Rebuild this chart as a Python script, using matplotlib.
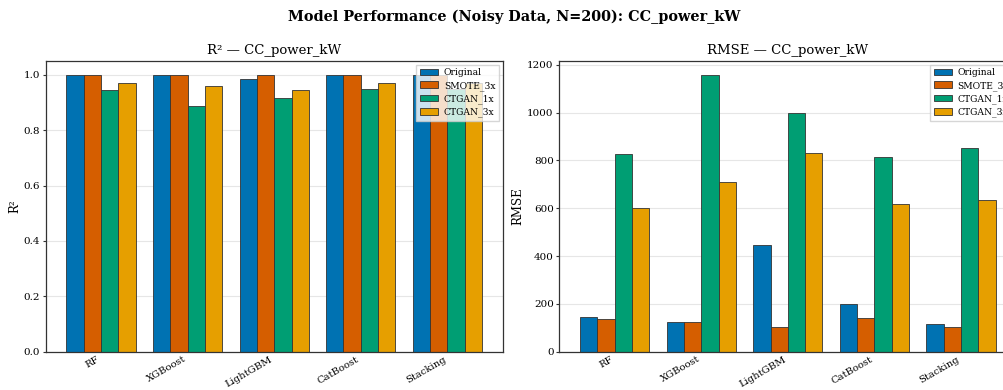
import numpy as np
import matplotlib
matplotlib.use("Agg")
import matplotlib.pyplot as plt

# data
models = ["RF", "XGBoost", "LightGBM", "CatBoost", "Stacking"]
datasets = ["Original", "SMOTE_3x", "CTGAN_1x", "CTGAN_3x"]
colors = ["#0072B2", "#D55E00", "#009E73", "#E69F00"]

r2_original = [1.000, 1.000, 0.986, 0.998, 1.000]
r2_smote3 = [1.000, 1.000, 1.000, 1.000, 1.000]
r2_ctgan1 = [0.945, 0.887, 0.916, 0.947, 0.950]
r2_ctgan3 = [0.970, 0.959, 0.944, 0.969, 0.970]

rmse_original = [146, 124, 447, 199, 117]
rmse_smote3 = [137, 123, 103, 140, 105]
rmse_ctgan1 = [828, 1158, 997, 812, 851]
rmse_ctgan3 = [600, 710, 829, 619, 634]

plt.rcParams["font.family"] = "DejaVu Serif"

fig = plt.figure(figsize=(10.04, 3.9), dpi=100)
ax1 = fig.add_axes([0.0455, 0.098, 0.4552, 0.746])
ax2 = fig.add_axes([0.5571, 0.098, 0.4552, 0.746])

x = np.arange(len(models))
w = 0.2


def draw(ax, series, title, ylabel):
    for i, (vals, name) in enumerate(zip(series, datasets)):
        ax.bar(x + (i - 1.5) * w, vals, w, label=name, color=colors[i],
               edgecolor="#333333", linewidth=0.6)
    ax.set_xticks(x)
    ax.set_xticklabels(models, rotation=30, ha="right", fontsize=7.2)
    ax.tick_params(axis="y", labelsize=7.5, length=2.5, width=0.8,
                   color="#333333", pad=1.5)
    ax.tick_params(axis="x", length=0, pad=2)
    ax.set_title(title, fontsize=9.5, pad=5)
    ax.set_ylabel(ylabel, fontsize=8.5, labelpad=2)
    ax.grid(axis="y", color="#e6e6e6", linewidth=0.8)
    ax.set_axisbelow(True)
    for s in ax.spines.values():
        s.set_color("#333333")
        s.set_linewidth(0.9)
    ax.legend(loc="upper right", fontsize=6.6, framealpha=0.8,
              edgecolor="#cccccc", fancybox=False, borderaxespad=0.4,
              labelspacing=0.4, handletextpad=0.6)


draw(ax1, [r2_original, r2_smote3, r2_ctgan1, r2_ctgan3], "R² — CC_power_kW", "R²")
draw(ax2, [rmse_original, rmse_smote3, rmse_ctgan1, rmse_ctgan3], "RMSE — CC_power_kW", "RMSE")

fig.suptitle("Model Performance (Noisy Data, N=200): CC_power_kW",
             fontsize=10.4, fontweight="bold", x=0.512, y=0.975)

fig.savefig("out.png", dpi=100, facecolor="white")
